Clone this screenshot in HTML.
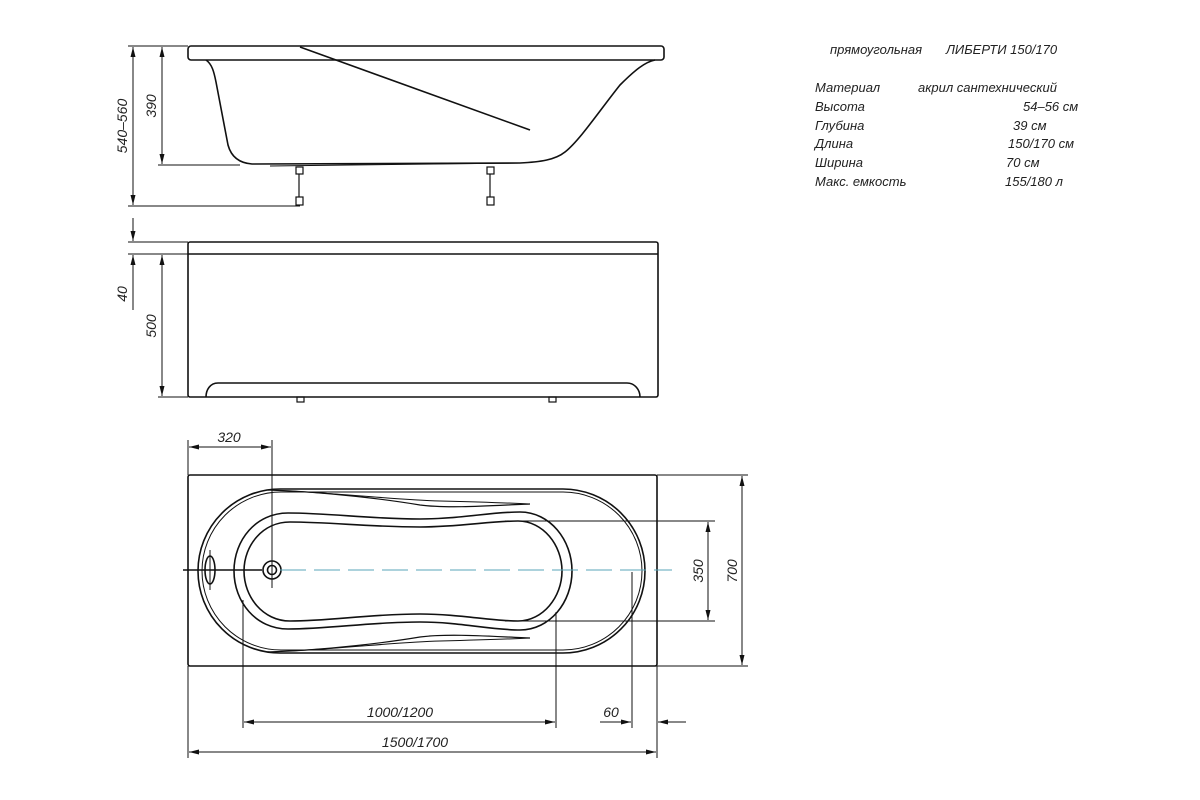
<!DOCTYPE html>
<html><head><meta charset="utf-8"><style>
html,body{margin:0;padding:0;background:#fff;}
svg{display:block;}
text{font-family:"Liberation Sans","DejaVu Sans",sans-serif;font-style:italic;fill:#222;}
</style></head><body>
<svg width="1200" height="800" viewBox="0 0 1200 800" xmlns="http://www.w3.org/2000/svg">
<defs>
<marker id="a" viewBox="0 0 10 6" refX="10" refY="3" markerWidth="10" markerHeight="6" orient="auto-start-reverse" markerUnits="userSpaceOnUse">
<path d="M0,0.5 L10,3 L0,5.5 z" fill="#111"/></marker>
</defs>
<g stroke="#111" fill="none" stroke-width="1.6">
<!-- side view -->
<rect x="188" y="46" width="476" height="14" rx="3"/>
<path d="M206,60 C212,64 214,72 216,82 L228,145 C231,156 238,163 252,164 L520,163 C540,162 555,160 565,152 C580,140 600,110 620,85 C635,70 645,62 655,60"/>
<path d="M270,166 L520,163" stroke-width="1"/>
<line x1="300" y1="47" x2="530" y2="130"/>
<g stroke-width="1.2"><rect x="296" y="167" width="7" height="7"/><line x1="299" y1="174" x2="299" y2="197"/><rect x="296" y="197" width="7" height="8"/>
<rect x="487" y="167" width="7" height="7"/><line x1="490" y1="174" x2="490" y2="197"/><rect x="487" y="197" width="7" height="8"/></g>
<!-- front view -->
<rect x="188" y="242" width="470" height="155" rx="2"/>
<line x1="188" y1="254" x2="658" y2="254"/>
<path d="M206,397 C206,390 210,383 218,383 L627,383 C635,383 640,390 640,397"/>
<rect x="297" y="397" width="7" height="5" stroke-width="1.2"/><rect x="549" y="397" width="7" height="5" stroke-width="1.2"/>
<!-- top view -->
<rect x="188" y="475" width="469" height="191" rx="2"/>
<rect x="198" y="489" width="447" height="164" rx="82"/>
<rect x="202" y="492" width="440" height="158" rx="79" stroke-width="1"/>
<path d="M288,513 C330,513 370,519 420,519 C460,519 490,512 520,512 C550,512 572,540 572,571 C572,602 550,630 520,630 C490,630 460,622 420,622 C370,622 330,629 288,629 C256,629 234,602 234,571 C234,540 256,513 288,513 Z"/>
<path d="M290,522 C330,522 370,527 420,527 C460,527 490,521 518,521 C543,521 562,545 562,571 C562,597 543,621 518,621 C490,621 460,614 420,614 C370,614 330,621 290,621 C263,621 244,597 244,571 C244,545 263,522 290,522 Z"/>
<path d="M268,490 C330,492 390,500 420,505 C450,509 500,505 530,504" stroke-width="1.2"/>
<path d="M290,491 C360,495 400,500 440,501 C480,502 510,503 530,504" stroke-width="1"/>
<path d="M268,652 C330,650 390,642 420,637 C450,633 500,637 530,638" stroke-width="1.2"/>
<path d="M290,651 C360,647 400,642 440,641 C480,640 510,639 530,638" stroke-width="1"/>
<ellipse cx="210" cy="570" rx="5" ry="14"/>
<line x1="210" y1="550" x2="210" y2="590" stroke-width="1"/>
<circle cx="272" cy="570" r="9"/><circle cx="272" cy="570" r="4.5"/>
</g>
<line x1="280" y1="570" x2="672" y2="570" stroke="#5aa6b8" stroke-width="1" stroke-dasharray="26,8"/>
<line x1="183" y1="570" x2="262" y2="570" stroke="#111" stroke-width="1.6"/>
<!-- dimensions -->
<g stroke="#111" stroke-width="1" fill="none">
<line x1="128" y1="46" x2="188" y2="46"/>
<line x1="158" y1="165" x2="240" y2="165"/>
<line x1="128" y1="206" x2="300" y2="206"/>
<line x1="133" y1="47" x2="133" y2="205" marker-start="url(#a)" marker-end="url(#a)"/>
<line x1="162" y1="47" x2="162" y2="164" marker-start="url(#a)" marker-end="url(#a)"/>
<line x1="133" y1="218" x2="133" y2="241" marker-end="url(#a)"/>
<line x1="133" y1="255" x2="133" y2="310" marker-start="url(#a)"/>
<line x1="128" y1="242" x2="188" y2="242"/>
<line x1="128" y1="254" x2="188" y2="254"/>
<line x1="158" y1="397" x2="188" y2="397"/>
<line x1="162" y1="255" x2="162" y2="396" marker-start="url(#a)" marker-end="url(#a)"/>
<line x1="188" y1="440" x2="188" y2="475"/>
<line x1="272" y1="440" x2="272" y2="588"/>
<line x1="189" y1="447" x2="271" y2="447" marker-start="url(#a)" marker-end="url(#a)"/>
<line x1="505" y1="521" x2="715" y2="521"/>
<line x1="505" y1="621" x2="715" y2="621"/>
<line x1="708" y1="522" x2="708" y2="620" marker-start="url(#a)" marker-end="url(#a)"/>
<line x1="657" y1="475" x2="748" y2="475"/>
<line x1="657" y1="666" x2="748" y2="666"/>
<line x1="742" y1="476" x2="742" y2="665" marker-start="url(#a)" marker-end="url(#a)"/>
<line x1="188" y1="666" x2="188" y2="758"/>
<line x1="243" y1="600" x2="243" y2="728"/>
<line x1="556" y1="612" x2="556" y2="728"/>
<line x1="632" y1="572" x2="632" y2="728"/>
<line x1="657" y1="666" x2="657" y2="758"/>
<line x1="244" y1="722" x2="555" y2="722" marker-start="url(#a)" marker-end="url(#a)"/>
<line x1="600" y1="722" x2="631" y2="722" marker-end="url(#a)"/>
<line x1="686" y1="722" x2="658" y2="722" marker-end="url(#a)"/>
<line x1="189" y1="752" x2="656" y2="752" marker-start="url(#a)" marker-end="url(#a)"/>
</g>
<g font-size="14">
<text transform="translate(127,126) rotate(-90)" text-anchor="middle">540–560</text>
<text transform="translate(156,106) rotate(-90)" text-anchor="middle">390</text>
<text transform="translate(127,294) rotate(-90)" text-anchor="middle">40</text>
<text transform="translate(156,326) rotate(-90)" text-anchor="middle">500</text>
<text transform="translate(703,571) rotate(-90)" text-anchor="middle">350</text>
<text transform="translate(737,571) rotate(-90)" text-anchor="middle">700</text>
<text x="229" y="442" text-anchor="middle">320</text>
<text x="400" y="717" text-anchor="middle">1000/1200</text>
<text x="611" y="717" text-anchor="middle">60</text>
<text x="415" y="747" text-anchor="middle">1500/1700</text>
</g>
<g font-size="13">
<text x="830" y="54">прямоугольная</text><text x="946" y="54">ЛИБЕРТИ 150/170</text>
<text x="815" y="92">Материал</text><text x="918" y="92">акрил сантехнический</text>
<text x="815" y="111">Высота</text><text x="1023" y="111">54–56 см</text>
<text x="815" y="130">Глубина</text><text x="1013" y="130">39 см</text>
<text x="815" y="148">Длина</text><text x="1008" y="148">150/170 см</text>
<text x="815" y="167">Ширина</text><text x="1006" y="167">70 см</text>
<text x="815" y="186">Макс. емкость</text><text x="1005" y="186">155/180 л</text>
</g>
</svg>
</body></html>
